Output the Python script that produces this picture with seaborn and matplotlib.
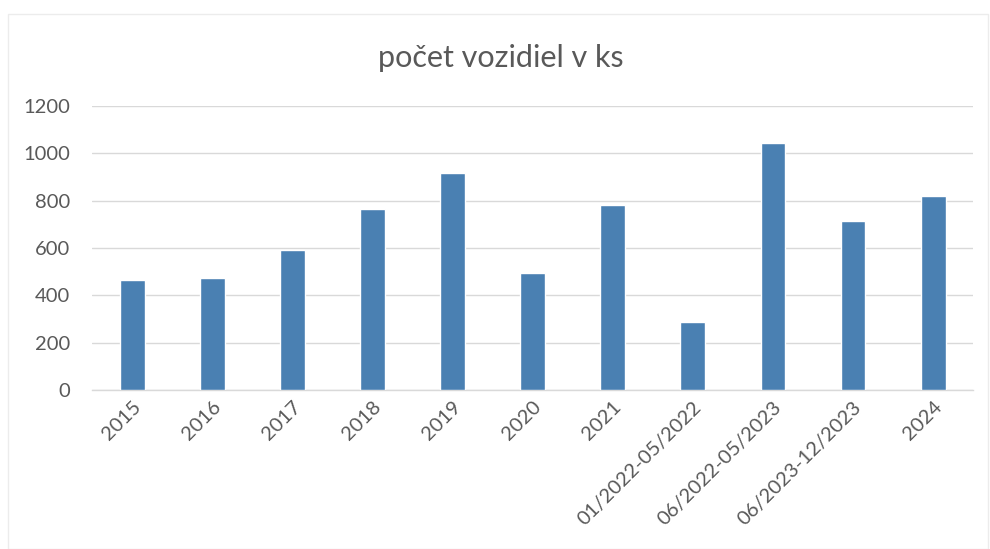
import numpy as np
import pandas as pd
import matplotlib
matplotlib.use("Agg")
import matplotlib.pyplot as plt
import seaborn as sns
from matplotlib.patches import Rectangle

# data
periods = ["2015", "2016", "2017", "2018", "2019", "2020", "2021",
           "01/2022-05/2022", "06/2022-05/2023", "06/2023-12/2023", "2024"]
vehicles = [466, 472, 592, 763, 915, 493, 783, 288, 1045, 715, 818]
y_ticks = [0, 200, 400, 600, 800, 1000, 1200]
title = "počet vozidiel v ks"

df = pd.DataFrame({"obdobie": periods, "pocet": vehicles})

sns.set_theme(style="white")
plt.rcParams["font.family"] = ["Lato", "DejaVu Sans"]

text_gray = "#595959"
grid_gray = "#d9d9d9"
bar_blue = "#4a80b2"

fig = plt.figure(figsize=(9.9, 5.49), dpi=100)
ax = fig.add_axes([0.093, 0.2896, 0.890, 0.5174])

sns.barplot(data=df, x="obdobie", y="pocet", color=bar_blue,
            width=0.31, saturation=1, ax=ax, zorder=3)

ax.set_ylim(0, 1200)
ax.set_yticks(y_ticks)
ax.set_yticklabels([str(t) for t in y_ticks])
ax.set_xlim(-0.5, len(periods) - 0.5)
ax.yaxis.grid(True, color=grid_gray, lw=1, zorder=0)
ax.set_axisbelow(True)

for side in ["top", "right", "left"]:
    ax.spines[side].set_visible(False)
ax.spines["bottom"].set_color(grid_gray)
ax.spines["bottom"].set_linewidth(1)

ax.set_xlabel("")
ax.set_ylabel("")
ax.tick_params(axis="y", length=0, pad=16, labelsize=14.5, labelcolor=text_gray)
ax.tick_params(axis="x", length=0, pad=6, labelsize=14.5, labelcolor=text_gray)
for lbl in ax.get_xticklabels():
    lbl.set_rotation(45)
    lbl.set_ha("right")
    lbl.set_rotation_mode("anchor")

fig.text(0.5055, 0.895, title, ha="center", va="center",
         fontsize=22, color=text_gray)

# faint chart frame like the original
fig.patches.append(Rectangle((0.008, 0.0), 0.99, 0.975, transform=fig.transFigure,
                             fill=False, edgecolor="#ececec", lw=1))

fig.savefig("out.png", dpi=100)
